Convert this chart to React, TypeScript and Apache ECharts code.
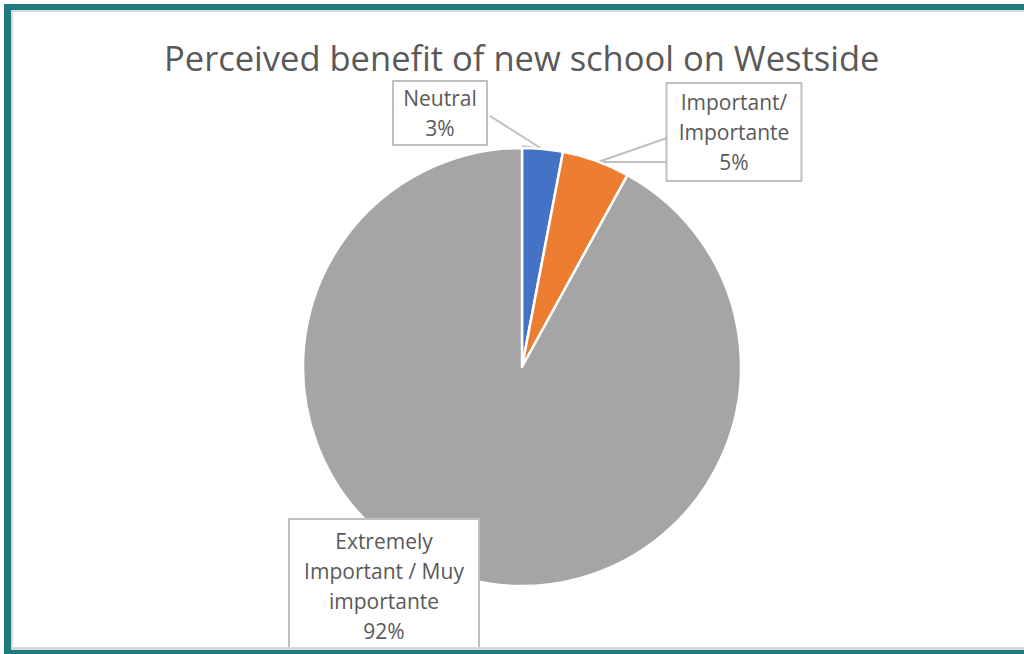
import React, { useEffect, useRef } from "react";
import * as echarts from "echarts";

const TITLE = "Perceived benefit of new school on Westside";
const categories = ["Neutral", "Important/\nImportante", "Extremely\nImportant / Muy\nimportante"];
const values = [3, 5, 92];
const colors = ["#4472C4", "#ED7D31", "#A5A5A5"];

// label box placement (center x, center y, width) and callout lines
const boxes = [
  { cx: 440, cy: 113, w: 96, h: 66, line: [[490, 116], [542, 149], [522, 146]] },
  { cx: 734, cy: 132, w: 137, h: 100, line: [[667, 138], [598, 162], [667, 162]] },
  { cx: 384, cy: 586, w: 192, h: 136, line: null as any },
];

const FONT = "'Open Sans', 'Noto Sans', sans-serif";

export default function App() {
  const ref = useRef<HTMLDivElement>(null);
  useEffect(() => {
    const chart = echarts.init(ref.current!, null, { renderer: "svg" });
    const data = categories.map((name, i) => ({
      name,
      value: values[i],
      itemStyle: { color: colors[i] },
      label: { width: boxes[i].w - 4, height: boxes[i].h - 4 },
      labelLine: { show: !!boxes[i].line },
    }));
    chart.setOption({
      animation: false,
      backgroundColor: "#ffffff",
      title: {
        text: TITLE,
        left: 159,
        top: 35,
        textStyle: { fontSize: 34.5, fontWeight: "normal", color: "#595959", fontFamily: FONT },
      },
      graphic: [
        { type: "rect", z: 100, shape: { x: 4, y: 4, width: 1020, height: 6 }, style: { fill: "#1F7A7E" } },
        { type: "rect", z: 100, shape: { x: 4, y: 4, width: 7, height: 650 }, style: { fill: "#1F7A7E" } },
        { type: "rect", z: 100, shape: { x: 4, y: 650, width: 1020, height: 4 }, style: { fill: "#1F7A7E" } },
        { type: "rect", z: 100, shape: { x: 11, y: 10, width: 1013, height: 2 }, style: { fill: "#D9D9D9" } },
        { type: "rect", z: 100, shape: { x: 11, y: 10, width: 2, height: 640 }, style: { fill: "#D9D9D9" } },
        { type: "rect", z: 100, shape: { x: 11, y: 647, width: 1013, height: 3 }, style: { fill: "#D9D9D9" } },
      ],
      series: [
        {
          type: "pie",
          center: [522, 367],
          radius: 219,
          startAngle: 90,
          clockwise: true,
          avoidLabelOverlap: false,
          itemStyle: { borderColor: "#ffffff", borderWidth: 2.5 },
          label: {
            show: true,
            formatter: "{b}\n{c}%",
            color: "#595959",
            fontSize: 21,
            lineHeight: 30,
            fontFamily: FONT,
            align: "center",
            verticalAlign: "middle",
            backgroundColor: "#ffffff",
            borderColor: "#BFBFBF",
            borderWidth: 2,
            padding: [0, 0],
          },
          labelLine: { show: true, lineStyle: { color: "#BFBFBF", width: 2 } },
          labelLayout: (params: any) => {
            const b = boxes[params.dataIndex];
            const res: any = { x: b.cx, y: b.cy, align: "center", verticalAlign: "middle" };
            if (b.line) res.labelLinePoints = b.line;
            return res;
          },
          data,
        },
      ],
    });
    return () => chart.dispose();
  }, []);
  return (
    <div
      ref={ref}
      style={{ position: "absolute", left: 0, top: 0, width: 1024, height: 654, background: "#fff" }}
    />
  );
}
